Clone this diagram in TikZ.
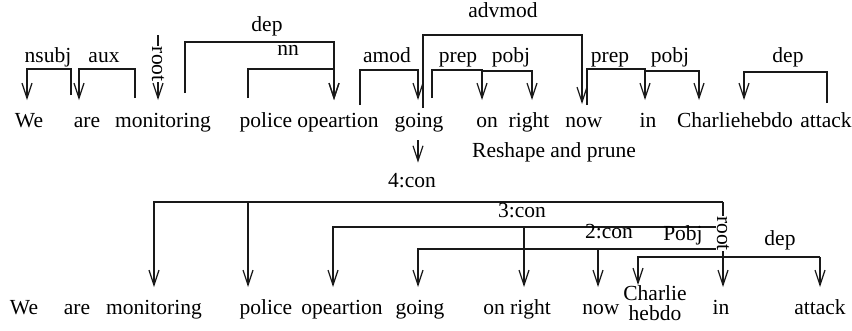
\documentclass[tikz,border=0pt]{standalone}
\usepackage{fontspec}
\setmainfont{Liberation Serif}
\usetikzlibrary{arrows.meta}
\begin{document}
\begin{tikzpicture}[x=1pt,y=1pt,
  txt/.style={font=\fontsize{21.5}{24}\selectfont, inner sep=0pt},
  word/.style={txt, anchor=base, text height=14pt, text depth=4pt, outer ysep=13pt},
  lab/.style={txt, anchor=base},
  rootlab/.style={txt, rotate=-90, fill=white, inner sep=0.6pt},
  ln/.style={line width=1.2pt, draw=black!90},
  arr/.style={ln, -{Straight Barb[length=15pt,width=10pt]}}]
\useasboundingbox (0,0) rectangle (852,-330);

% ---------- parsed sentence ----------
\node[word] (w1)  at (29,-127)  {We};
\node[word] (w2)  at (87,-127)  {are};
\node[word] (w3)  at (163,-127) {monitoring};
\node[word] (w4)  at (266,-127) {police};
\node[word] (w5)  at (338,-127) {opeartion};
\node[word] (w6)  at (419,-127) {going};
\node[word] (w7)  at (487,-127) {on};
\node[word] (w8)  at (529,-127) {right};
\node[word] (w9)  at (584,-127) {now};
\node[word] (w10) at (648,-127) {in};
\node[word] (w11) at (735,-127) {Charliehebdo};
\node[word] (w12) at (826,-127) {attack};

% dependency arcs
\draw[arr] ([xshift=-16,yshift=5]w2.north) -- ++(0,26) -| ([xshift=-2]w1.north);
\draw[arr] ([xshift=-28,yshift=2]w3.north) -- ++(0,29) -| ([xshift=-8]w2.north);
\draw[arr] ([xshift=-5,yshift=65]w3.north) -- node[rootlab, pos=0.45] (r1) {root} ([xshift=-5]w3.north);
\draw[arr] ([xshift=22,yshift=7]w3.north) -- ++(0,51) -| ([xshift=-4]w5.north);
\draw[arr] ([xshift=-18,yshift=2]w4.north) -- ++(0,29) -| ([xshift=-4]w5.north);
\draw[arr] ([xshift=22,yshift=-5]w5.north) -- ++(0,35) -| ([xshift=-1]w6.north);
\draw[arr] ([xshift=4,yshift=-8]w6.north) -- ++(0,73) -| ([xshift=-2,yshift=-4]w9.north);
\draw[arr] ([xshift=13,yshift=2]w6.north) -- ++(0,28) -| ([xshift=-5]w7.north);
\draw[arr] ([xshift=-5,yshift=29]w7.north) -| ([xshift=3]w8.north);
\draw[arr] ([xshift=3,yshift=-5]w9.north) -- ++(0,36) -| ([xshift=-3]w10.north);
\draw[arr] ([xshift=-3,yshift=29]w10.north) -| ([xshift=-36]w11.north);
\draw[arr] ([xshift=1,yshift=-3]w12.north) -- ++(0,31) -| ([xshift=9]w11.north);

% arc labels
\node[lab] (l1)  at (48,-62)  {nsubj};
\node[lab] (l2)  at (104,-62) {aux};
\node[lab] (l3)  at (267,-31) {dep};
\node[lab] (l4)  at (288,-55) {nn};
\node[lab] (l5)  at (387,-62) {amod};
\node[lab] (l6)  at (503,-17) {advmod};
\node[lab] (l7)  at (458,-62) {prep};
\node[lab] (l8)  at (511,-62) {pobj};
\node[lab] (l9)  at (610,-62) {prep};
\node[lab] (l10) at (670,-62) {pobj};
\node[lab] (l11) at (788,-62) {dep};

% ---------- transformation step ----------
\node[lab] (c4) at (412,-187) {4:con};
\node[lab] (rp) at (554,-157) {Reshape and prune};
\draw[arr] ([xshift=-1,yshift=4]w6.south) -- ([xshift=6,yshift=10]c4.north);

% ---------- reshaped tree ----------
\node[word] (b1)  at (24,-314)  {We};
\node[word] (b2)  at (77,-314)  {are};
\node[word] (b3)  at (154,-314) {monitoring};
\node[word] (b4)  at (266,-314) {police};
\node[word] (b5)  at (342,-314) {opeartion};
\node[word] (b6)  at (420,-314) {going};
\node[word] (b7)  at (517,-314) {on right};
\node[word] (b8)  at (601,-314) {now};
\node[txt, anchor=north, align=center, font=\fontsize{21.5}{20}\selectfont] (b11) at (655,-285) {Charlie\\hebdo};
\node[word] (b10) at (721,-314) {in};
\node[word] (b12) at (820,-314) {attack};

% 4:con
\draw[arr] ([xshift=2,yshift=85]b10.north) -| (b3.north);
\draw[arr] ([xshift=-18,yshift=85]b4.north) -- ([xshift=-18]b4.north);
% 3:con
\draw[arr] ([xshift=-4,yshift=60]b10.north) -| ([xshift=-9]b5.north);
\draw[arr] ([xshift=7,yshift=60]b7.north) -- ([xshift=7]b7.north);
% 2:con
\draw[arr] ([xshift=-4,yshift=38]b10.north) -| ([xshift=-2]b6.north);
\draw[arr] ([xshift=-3,yshift=38]b8.north) -- ([xshift=-3]b8.north);
% Pobj / dep
\draw[arr] ([yshift=30]b12.north) -| ([xshift=-17]b11.north);
\draw[arr] ([yshift=30]b12.north) -- (b12.north);
% root
\draw[arr] ([xshift=2,yshift=85]b10.north) -- node[rootlab, pos=0.37] (r2) {root} ([xshift=2]b10.north);

\node[lab] (l12) at (522,-217) {3:con};
\node[lab] (l13) at (609,-238) {2:con};
\node[lab] (l14) at (683,-240) {Pobj};
\node[lab] (l15) at (780,-245) {dep};
\end{tikzpicture}
\end{document}
